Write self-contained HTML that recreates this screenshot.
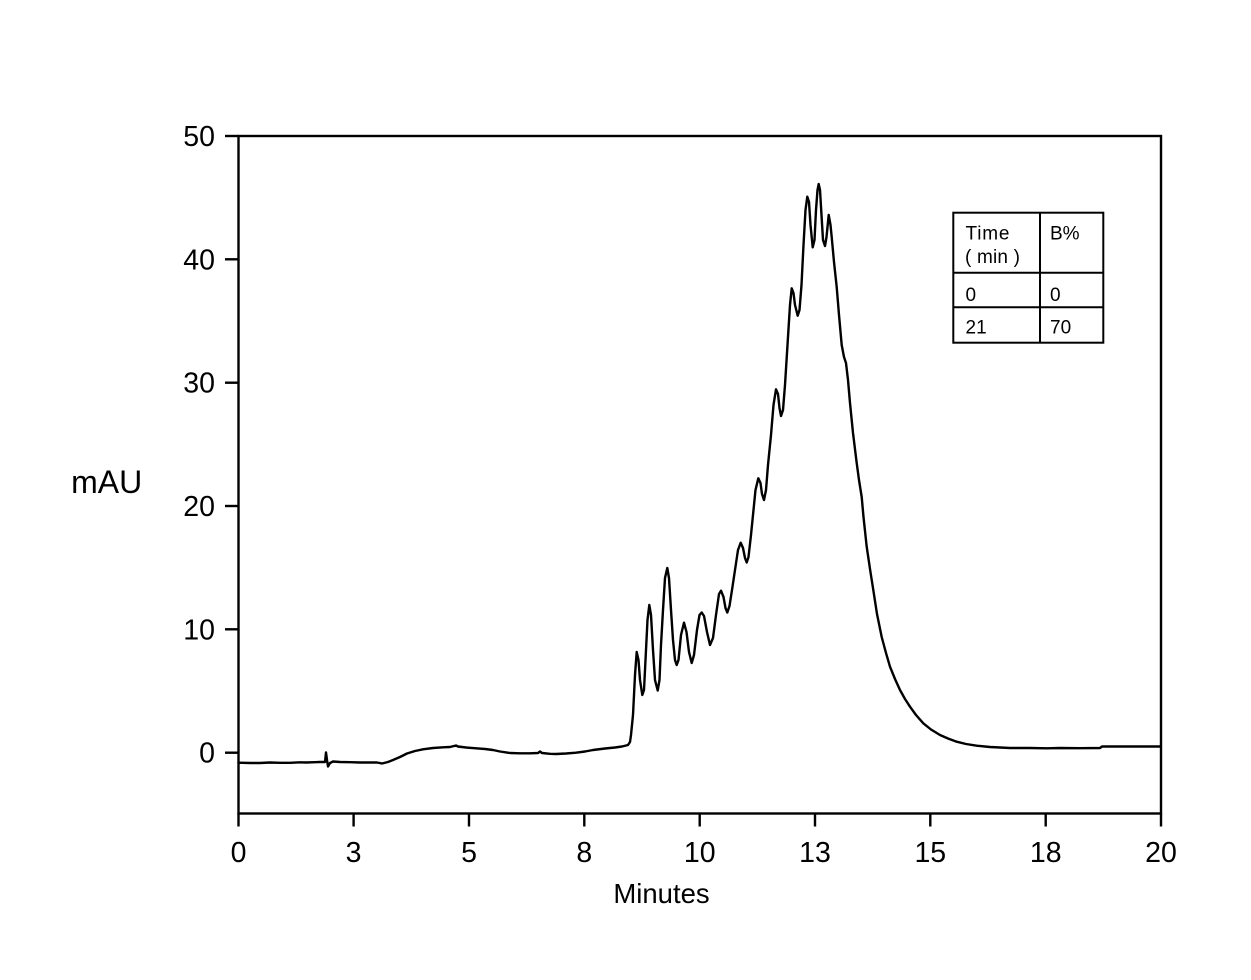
<!DOCTYPE html>
<html>
<head>
<meta charset="utf-8">
<style>
  html, body { margin:0; padding:0; background:#fff; }
  svg { display:block; }
  text { font-family: "Liberation Sans", Arial, sans-serif; fill:#000; }
</style>
</head>
<body>
<svg width="1251" height="980" viewBox="0 0 1251 980" xmlns="http://www.w3.org/2000/svg">
  <rect x="0" y="0" width="1251" height="980" fill="#fff"/>

  <!-- plot frame -->
  <rect x="238.5" y="136" width="922.5" height="677.5" fill="none" stroke="#000" stroke-width="2.4"/>

  <!-- y ticks -->
  <g stroke="#000" stroke-width="2.4">
    <line x1="225" y1="136" x2="238.5" y2="136"/>
    <line x1="225" y1="259.3" x2="238.5" y2="259.3"/>
    <line x1="225" y1="382.7" x2="238.5" y2="382.7"/>
    <line x1="225" y1="506" x2="238.5" y2="506"/>
    <line x1="225" y1="629.3" x2="238.5" y2="629.3"/>
    <line x1="225" y1="752.7" x2="238.5" y2="752.7"/>
  </g>
  <g font-size="28.5" text-anchor="end">
    <text x="215" y="146">50</text>
    <text x="215" y="269.3">40</text>
    <text x="215" y="392.7">30</text>
    <text x="215" y="516">20</text>
    <text x="215" y="639.3">10</text>
    <text x="215" y="762.7">0</text>
  </g>

  <!-- x ticks -->
  <g stroke="#000" stroke-width="2.4">
    <line x1="238.5" y1="813.5" x2="238.5" y2="826.5"/>
    <line x1="353.6" y1="813.5" x2="353.6" y2="826.5"/>
    <line x1="469" y1="813.5" x2="469" y2="826.5"/>
    <line x1="584.3" y1="813.5" x2="584.3" y2="826.5"/>
    <line x1="699.7" y1="813.5" x2="699.7" y2="826.5"/>
    <line x1="815" y1="813.5" x2="815" y2="826.5"/>
    <line x1="930.3" y1="813.5" x2="930.3" y2="826.5"/>
    <line x1="1045.7" y1="813.5" x2="1045.7" y2="826.5"/>
    <line x1="1161" y1="813.5" x2="1161" y2="826.5"/>
  </g>
  <g font-size="28.5" text-anchor="middle">
    <text x="238.5" y="862">0</text>
    <text x="353.6" y="862">3</text>
    <text x="469" y="862">5</text>
    <text x="584.3" y="862">8</text>
    <text x="699.7" y="862">10</text>
    <text x="815" y="862">13</text>
    <text x="930.3" y="862">15</text>
    <text x="1045.7" y="862">18</text>
    <text x="1161" y="862">20</text>
  </g>

  <!-- axis titles -->
  <text x="661.5" y="903" font-size="27.5" text-anchor="middle">Minutes</text>
  <text x="106.7" y="493" font-size="32" text-anchor="middle">mAU</text>

  <!-- trace -->
  <polyline fill="none" stroke="#000" stroke-width="2.4" stroke-linejoin="round" stroke-linecap="round" points="
238.5,762.7 250,763 260,763 270,762.5 280,762.8 290,762.8 300,762.3 306,762.5 315,762.2 320,762 325,762 326,752.5 327,760 328,766.5 330,763 333,761.5 340,762 350,762.2 360,762.5 370,762.5 377,762.5 382,763.5 388,762 393,760 400,757 407,753.5 415,751 423,749.3 433,748 443,747.3 450,747 456,745.5 458,746.5 466,747.5 476,748.3 485,749 493,750 500,751.5 510,753 520,753.3 530,753.3 538,753 540,751.5 542,753 550,753.8 556,754 566,753.5 576,752.7 585,751.5 593,750 605,748.5 615,747.5 622,746.5 628,745 630,742 631,735 633,715 635,675 636.7,652 638.5,660 640,680 642.3,695 644,690 646,650 647.5,620 649.3,605 651,615 653,650 655,680 657.7,690.5 659.5,680 661,645 663,610 665,578 667.3,568 669,578 671,610 673,640 675,660 676.7,665 678.5,660 681,635 684,622.7 686.5,632 689,652 691.7,663 694,655 697,630 699.5,615 701.7,612.5 704,616 707,632 710,645 713,638 716,615 719,594 721,590.7 723.5,597 725.5,608 727.3,612.5 729.5,606 732,590 735,570 738,550 740.7,542.7 743,548 745,558 746.7,562.5 748.5,557 751,535 753,515 755.5,490 758.3,478.3 760.5,483 762,494 764,500 766,490 768,465 771,435 773.5,405 776,389.3 778,394 779.5,408 781,416 783,410 785,385 787.5,345 790,305 791.7,288.3 793.5,293 795,305 797.7,315.7 799.5,310 801.5,285 803.5,245 805.5,210 807.3,196.7 809,202 810.5,225 812.7,247.3 814.5,240 816,210 817.5,190 818.7,184 820,190 821.5,215 823,240 825,246 826.5,237 828.7,215 830.5,225 831.7,237 834,262 836.7,287 839,315 841.7,345 844,357 846,363 848,380 850,403 853,433 856.7,463 859,480 861.7,497 863.5,517 866.7,546.7 870,569 873.3,590 877,614 881.7,637 886,653 890,666.7 895,679 900,690 905,699 910,706.7 916,715 923.3,723.3 931,729.5 940,735 948,738.5 956.7,741.7 966,744 976.7,745.7 990,747 1010,748 1030,748 1047,748.3 1060,748 1080,748.2 1100,748 1102,746.5 1130,746.5 1160,746.5"/>

  <!-- gradient table -->
  <g stroke="#000" stroke-width="2" fill="none">
    <rect x="953.3" y="212.7" width="150" height="130"/>
    <line x1="1040" y1="212.7" x2="1040" y2="342.7"/>
    <line x1="953.3" y1="272.7" x2="1103.3" y2="272.7"/>
    <line x1="953.3" y1="307.3" x2="1103.3" y2="307.3"/>
  </g>
  <g font-size="19">
    <text x="965.5" y="239.5" textLength="44" lengthAdjust="spacing">Time</text>
    <text x="965" y="263" textLength="55" lengthAdjust="spacing">( min )</text>
    <text x="1050" y="239.5">B%</text>
    <text x="965.5" y="301">0</text>
    <text x="1050" y="301">0</text>
    <text x="965.5" y="333.5">21</text>
    <text x="1050" y="333.5">70</text>
  </g>
</svg>
</body>
</html>
